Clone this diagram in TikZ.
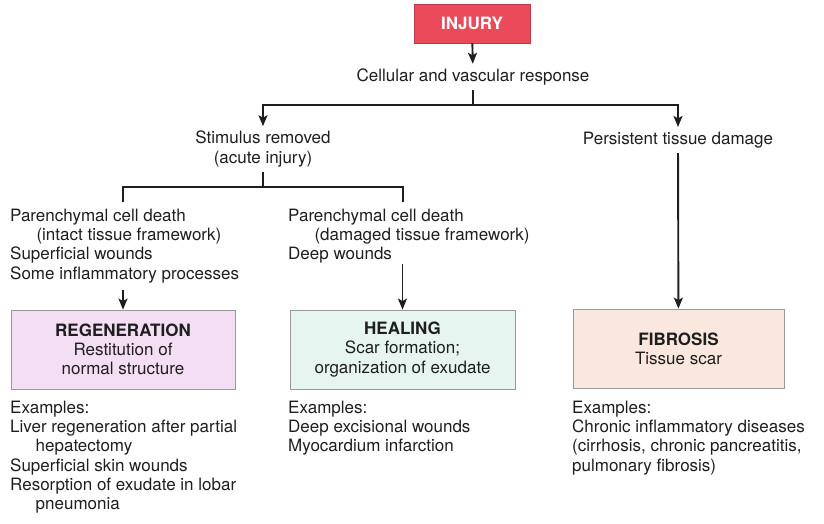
\documentclass[tikz,border=0pt]{standalone}
\usepackage{fontspec}
\setmainfont{TeX Gyre Heros}
\usetikzlibrary{arrows.meta,positioning,calc}

\definecolor{injuryred}{HTML}{EB4A5B}
\definecolor{regenfill}{HTML}{F4DEF4}
\definecolor{healfill}{HTML}{E6F5EF}
\definecolor{fibrofill}{HTML}{FAE7DD}
\definecolor{inkgray}{HTML}{1E1E1E}

\begin{document}
\begin{tikzpicture}[x=1bp,y=-1bp,
    font=\fontsize{17bp}{19.2bp}\selectfont,
    every node/.style={text=inkgray},
    label/.style={inner sep=0pt,outer sep=5bp,align=center},
    block/.style={inner sep=0pt,anchor=north west,align=left},
    outcome/.style={rectangle,draw=black!40,line width=0.8bp,minimum height=79bp,align=center,inner sep=2bp},
    link/.style={draw=inkgray,line width=1.9bp},
    arr/.style={link,-{Stealth[length=11bp,width=9bp,inset=2.5bp]}}]
    \useasboundingbox (0,0) rectangle (824,524);

    \node[rectangle,fill=injuryred,draw=injuryred!80!black,line width=0.6bp,minimum width=116bp,minimum height=39bp] (injury) at (472,23.5) {\textcolor{white}{\bfseries INJURY}};

    \node[label] (response) at (473,77) {Cellular and vascular response};
    \draw[arr] (injury) -- (response);

    \coordinate (split) at (473,105);
    \node[label] (stimulus) at (263,149) {Stimulus removed\\(acute injury)};
    \node[label] (persist) at (678,140) {Persistent tissue damage};
    \draw[link] (response) -- (split);
    \draw[arr] (split) -| (stimulus);
    \draw[arr] (split) -| (persist);

    % acute injury branches
    \coordinate (acute) at (263,187);
    \coordinate (intacttop) at (123,202);
    \coordinate (damagedtop) at (403,202);
    \draw[link] (stimulus) -- (acute) -| (intacttop);
    \draw[link] (acute) -| (damagedtop);

    \node[block] (intact) at (10,209) {Parenchymal cell death\\\hspace*{1.55em}(intact tissue framework)\\Superficial wounds\\Some inflammatory processes};
    \node[block] (damaged) at (288,209) {Parenchymal cell death\\\hspace*{1.55em}(damaged tissue framework)\\Deep wounds};

    \node[outcome,fill=regenfill,minimum width=224bp] (regen) at (123,349.5) {\textbf{REGENERATION}\\Restitution of\\normal structure};
    \node[outcome,fill=healfill,minimum width=225bp] (heal) at (402.5,349.5) {\textbf{HEALING}\\Scar formation;\\organization of exudate};
    \node[outcome,fill=fibrofill,minimum width=211bp] (fibro) at (678.5,348.5) {\textbf{FIBROSIS}\\Tissue scar};

    \draw[arr] ($(regen.north |- intact.south)+(0,7)$) -- (regen);
    \draw[arr] (heal.north |- damaged.south) -- (heal);
    \draw[arr] (persist) -- (fibro);

    % examples
    \node[block] (regenex) at (10,401) {Examples:\\Liver regeneration after partial\\\hspace*{1.5em}hepatectomy\\Superficial skin wounds\\Resorption of exudate in lobar\\\hspace*{1.5em}pneumonia};
    \node[block] (healex) at (288,401) {Examples:\\Deep excisional wounds\\Myocardium infarction};
    \node[block] (fibroex) at (572,401) {Examples:\\Chronic inflammatory diseases\\(cirrhosis, chronic pancreatitis,\\pulmonary fibrosis)};
\end{tikzpicture}
\end{document}
